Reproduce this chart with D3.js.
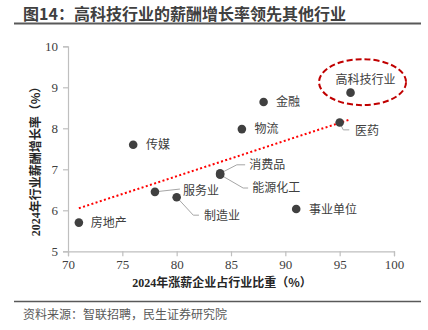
<!DOCTYPE html>
<html><head><meta charset="utf-8">
<script src="https://cdn.jsdelivr.net/npm/d3@7"></script>
<style>
body{margin:0;background:#fff;}
svg{display:block;}
</style></head>
<body>
<script>
// ---- data ----
const industries = ["房地产","传媒","服务业","制造业","消费品","能源化工","物流","金融","事业单位","医药","高科技行业"];
const raiseShare = [71, 76, 78, 80, 84, 84, 86, 88, 91, 95, 96];      // x: 2024年涨薪企业占行业比重（%）
const salaryGrowth = [5.7, 7.6, 6.45, 6.32, 6.9, 6.87, 7.98, 8.64, 6.03, 8.14, 8.87]; // y: 2024年行业薪酬增长率（%）
const xTicks = [70, 75, 80, 85, 90, 95, 100];
const yTicks = [5, 6, 7, 8, 9, 10];
const trendX = [71, 96];
const trendY = [6.05, 8.22];
const titleText = "图14：高科技行业的薪酬增长率领先其他行业";
const xTitleParts = ["2024", "年涨薪企业占行业比重（%）"];
const yTitleParts = ["2024", "年行业薪酬增长率（%）"];
const sourceText = "资料来源：智联招聘，民生证券研究院";
const highlight = "高科技行业";

// ---- layout (label offsets relative to dot, px) ----
const labelLayout = {
  "房地产":   {dx:12, dy:0},
  "传媒":     {dx:12.7, dy:0},
  "服务业":   {dx:28, dy:-1.3, leader:[[25,-2.8]]},
  "制造业":   {dx:27.3, dy:18.3, leader:[[16.6,18],[22.3,18]]},
  "消费品":   {dx:29, dy:-8.3, leader:[[16.7,-8.6],[25,-8.6]]},
  "能源化工": {dx:32, dy:13.4, leader:[[23,13.4],[28,13.4]]},
  "物流":     {dx:12.6, dy:0},
  "金融":     {dx:12.3, dy:0},
  "事业单位": {dx:12.7, dy:0.7},
  "医药":     {dx:15.3, dy:8.3, leader:[[3.6,7.3],[9.6,7.3]]},
  "高科技行业": {dx:15, dy:-12.7, anchor:"middle"}
};

const W = 428, H = 330;
const svg = d3.select("body").append("svg").attr("width", W).attr("height", H);
const cjk = "'Noto Sans CJK SC','Noto Sans',sans-serif";
const serif = "'Liberation Serif',serif";

// title
svg.append("text").attr("x", 23).attr("y", 20).text(titleText)
  .attr("font-family", cjk).attr("font-weight", "bold").attr("font-size", 16).attr("fill", "#404040");
svg.append("line").attr("x1", 14).attr("x2", 421).attr("y1", 23.5).attr("y2", 23.5)
  .attr("stroke", "#595959").attr("stroke-width", 2);

// scales
const x = d3.scaleLinear().domain([70, 100]).range([68, 394]);
const y = d3.scaleLinear().domain([5, 10]).range([251.3, 46.3]);

// axes
const axisColor = "#bfbfbf";
const gx = svg.append("g").attr("transform", `translate(0,${y(5)})`)
  .call(d3.axisBottom(x).tickValues(xTicks).tickFormat(d3.format("d")).tickSize(5).tickPadding(3));
const gy = svg.append("g").attr("transform", `translate(${x(70)},0)`)
  .call(d3.axisLeft(y).tickValues(yTicks).tickFormat(d3.format("d")).tickSize(5).tickPadding(5));
[gx, gy].forEach(g => {
  g.select(".domain").attr("stroke", axisColor).attr("stroke-width", 1.2);
  g.selectAll(".tick line").attr("stroke", axisColor).attr("stroke-width", 1.2);
  g.selectAll(".tick text").attr("font-family", serif).attr("font-size", 13).attr("fill", "#404040");
});

// axis titles
function mixedTitle(sel, parts) {
  sel.append("tspan").attr("font-family", serif).text(parts[0]);
  sel.append("tspan").attr("font-family", cjk).text(parts[1]);
}
const xt = svg.append("text").attr("x", 222).attr("y", 287).attr("text-anchor", "middle")
  .attr("font-weight", "bold").attr("font-size", 12).attr("fill", "#262626");
mixedTitle(xt, xTitleParts);
const yt = svg.append("text").attr("transform", `translate(39.5,${(80+237)/2}) rotate(-90)`).attr("text-anchor", "middle")
  .attr("font-weight", "bold").attr("font-size", 12).attr("fill", "#262626");
mixedTitle(yt, yTitleParts);

// trendline
svg.append("line")
  .attr("x1", x(trendX[0])).attr("y1", y(trendY[0]))
  .attr("x2", x(trendX[1])).attr("y2", y(trendY[1]))
  .attr("stroke", "#ff0000").attr("stroke-width", 2).attr("stroke-dasharray", "2,2.4");

const pts = industries.map((name, i) => ({name, xv: raiseShare[i], yv: salaryGrowth[i]}));

// leader lines
pts.forEach(p => {
  const L = labelLayout[p.name];
  if (!L.leader) return;
  const cx = x(p.xv), cy = y(p.yv);
  const path = d3.path();
  path.moveTo(cx, cy);
  L.leader.forEach(([dx, dy]) => path.lineTo(cx + dx, cy + dy));
  svg.append("path").attr("d", path.toString()).attr("fill", "none")
    .attr("stroke", "#a6a6a6").attr("stroke-width", 1);
});

// dots
svg.append("g").selectAll("circle").data(pts).join("circle")
  .attr("cx", d => x(d.xv)).attr("cy", d => y(d.yv)).attr("r", 4.3)
  .attr("fill", "#404040");

// labels
svg.append("g").selectAll("text").data(pts).join("text")
  .attr("x", d => x(d.xv) + labelLayout[d.name].dx)
  .attr("y", d => y(d.yv) + labelLayout[d.name].dy)
  .attr("dy", "0.36em")
  .attr("text-anchor", d => labelLayout[d.name].anchor || "start")
  .attr("font-family", cjk).attr("font-size", 12).attr("fill", "#404040")
  .text(d => d.name);

// highlight ellipse
const hi = pts.find(p => p.name === highlight);
svg.append("ellipse")
  .attr("cx", x(hi.xv) + 12).attr("cy", y(hi.yv) - 10.5)
  .attr("rx", 43.5).attr("ry", 23)
  .attr("fill", "none").attr("stroke", "#c00000").attr("stroke-width", 2)
  .attr("stroke-dasharray", "6,3");

// footer
svg.append("line").attr("x1", 14).attr("x2", 421).attr("y1", 301.5).attr("y2", 301.5)
  .attr("stroke", "#595959").attr("stroke-width", 1.5);
svg.append("text").attr("x", 23).attr("y", 319).text(sourceText)
  .attr("font-family", cjk).attr("font-size", 12).attr("fill", "#595959");
</script>
</body></html>
